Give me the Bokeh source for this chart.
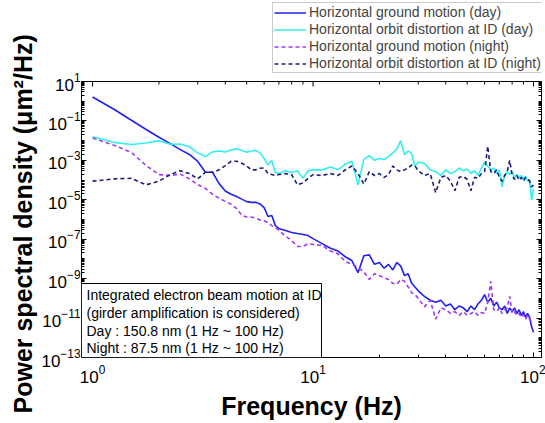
import math
from bokeh.plotting import figure
from bokeh.models import (LogAxis, FixedTicker, Legend, LegendItem, Label, BoxAnnotation,
                          CustomJSTickFormatter, Range1d, ColumnDataSource, Title)
from bokeh.embed import file_html
from bokeh.resources import INLINE

# ---------------- data ----------------
freq = [1.0, 1.25, 1.5, 1.75, 2.0, 2.25, 2.5, 2.75, 3.0, 3.25, 3.5, 3.75, 4.0,
        4.25, 4.5, 4.75, 5.0, 5.25, 5.5, 5.75, 6.0, 6.25, 6.5, 6.75, 7.0,
        7.5, 8.0, 8.5, 9.0, 9.5, 10.0,
        11, 12, 13, 14, 15, 16, 17, 18, 19, 20, 21, 22, 23, 24, 25, 26, 27, 28, 29, 30,
        32, 34, 36, 38, 40, 42, 44, 46, 48, 50, 52, 54, 56, 58, 60, 62, 64, 66, 68, 70,
        72, 74, 76, 78, 80, 82, 84, 86, 88, 90, 92, 94, 96, 98, 100]

day_ground = [1.63, 0.39, 0.108, 3.66e-2, 1.48e-2, 7.1e-3, 3.5e-3, 2.0e-3, 8.8e-4, 2.5e-4,
              2.5e-4, 6.6e-5, 2.8e-5, 1.9e-5, 1.48e-5, 1.08e-5, 8.1e-6, 7.4e-6, 7.4e-6, 6.2e-6,
              4.0e-6, 1.42e-6, 1.58e-6, 4.9e-7, 3.5e-7, 2.8e-7, 2.2e-7, 1.95e-7, 1.75e-7, 1.53e-7,
              1.07e-7,
              6.0e-8, 3.5e-8, 2.5e-8, 1.29e-8, 8.3e-9, 2.0e-9, 1.44e-8, 1.6e-8, 5.3e-9, 6.6e-9,
              3.4e-9, 5.3e-9, 2.75e-9, 6.6e-9, 4.3e-9, 1.42e-9, 1.77e-9, 5.8e-10, 3.8e-10, 2.4e-10,
              1.25e-10, 8e-11, 6.4e-11, 8e-11, 4.1e-11, 5.2e-11, 2.66e-11, 4.1e-11, 3.3e-11, 2.13e-11,
              4.1e-11, 2.66e-11, 5.2e-11, 8e-11, 1.56e-10, 6.4e-11, 1e-10, 4.1e-11, 6.4e-11, 3.3e-11,
              2.66e-11, 4.1e-11, 1.71e-11, 3.3e-11, 2.13e-11, 3.3e-11, 1.71e-11, 2.66e-11, 1.37e-11,
              2.13e-11, 1.1e-11, 1.71e-11, 1.1e-11, 3.6e-12, 1.9e-12]

day_orbit = [1.58e-2, 8.2e-3, 6.4e-3, 7.6e-3, 1.0e-2, 6.5e-3, 6.8e-3, 4.9e-3, 2.4e-3, 1.56e-3,
             2.7e-3, 3.0e-3, 2.65e-3, 3.4e-3, 3.85e-3, 3.2e-3, 2.6e-3, 3.0e-3, 3.2e-3, 2.4e-3,
             1.25e-3, 5.8e-4, 9.8e-4, 2.4e-4, 2.13e-4, 3.0e-4, 2.4e-4, 3.0e-4, 1.23e-4, 3.0e-4,
             3.3e-4,
             3.3e-4, 4.6e-4, 3.3e-4, 6.4e-4, 9.0e-4, 5.7e-5, 1.12e-3, 1.74e-3, 1.0e-3, 1.25e-3,
             1.12e-3, 1.56e-3, 2.4e-3, 3.8e-3, 1.0e-2, 1.94e-3, 3.0e-3, 2.2e-3, 5.2e-4, 8.0e-4,
             7.2e-4, 3.3e-4, 2.66e-4, 1.71e-4, 3.3e-4, 2.13e-4, 2.66e-4, 4.1e-4, 3.0e-4, 3.7e-4,
             2.13e-4, 3.0e-4, 1.71e-4, 4.1e-4, 8.0e-4, 5.2e-4, 3.3e-4, 4.1e-4, 2.13e-4, 3.3e-4,
             4.5e-5, 1.71e-4, 2.66e-4, 1.9e-4, 2.66e-4, 1.37e-4, 1.9e-4, 1.37e-4, 1.71e-4,
             1.1e-4, 1.53e-4, 8.8e-5, 1.1e-4, 9.7e-6, 3.6e-5]

night_ground = [1.36e-2, 5.9e-3, 2.5e-3, 5.5e-4, 1.9e-4, 1.71e-4, 2.0e-4, 1.15e-4, 5.9e-5, 3.8e-5,
                1.9e-5, 1.21e-5, 8.3e-6, 6.0e-6, 3.6e-6, 1.66e-6, 1.33e-6, 1.33e-6, 1.19e-6, 9.5e-7,
                8.6e-7, 6.9e-7, 4.9e-7, 3.9e-7, 2.8e-7, 1.46e-7, 8.4e-8, 4.3e-8, 4.3e-8, 6.0e-8,
                5.4e-8,
                4.8e-8, 2.5e-8, 1.8e-8, 7.4e-9, 5.3e-9, 3.8e-9, 2.2e-9, 9.1e-10, 1.77e-9, 1.42e-9,
                1.13e-9, 9.1e-10, 5.8e-10, 5.2e-10, 9.1e-10, 7.3e-10, 3.8e-10, 1.94e-10, 1.56e-10, 1e-10,
                3.7e-11, 8e-11, 8.8e-12, 3.3e-11, 2.66e-11, 1.71e-11, 2.13e-11, 1.37e-11, 2.13e-11,
                1.37e-11,
                1.71e-11, 2.13e-11, 1.37e-11, 1.91e-11, 1.71e-11, 6.4e-11, 7.3e-10, 2.66e-11, 2.13e-11,
                3.3e-11,
                1.71e-11, 2.66e-11, 3.3e-11, 1.25e-10, 1.71e-11, 2.13e-11, 1.37e-11, 1.71e-11, 1.1e-11,
                1.53e-11, 8.8e-12, 1.37e-11, 8.8e-12, 7.1e-12, 5.7e-12]

night_orbit = [8.8e-5, 1.15e-4, 1.23e-4, 5.7e-5, 8.8e-5, 1.9e-4, 3.0e-4, 2.13e-4, 1.15e-4, 2.5e-4,
               2.5e-4, 3.3e-4, 5.4e-4, 9.0e-4, 9.0e-4, 7.2e-4, 5.2e-4, 3.3e-4, 3.3e-4, 4.0e-4,
               4.1e-4, 2.13e-4, 1.9e-4, 1.71e-4, 1.9e-4, 2.13e-4, 1.9e-4, 5.7e-5, 7.1e-5, 1.23e-4,
               1.9e-4,
               1.71e-4, 2.13e-4, 1.71e-4, 3.3e-4, 5.2e-4, 2.13e-4, 6.3e-5, 2.66e-4, 1.71e-4, 2.13e-4,
               1.37e-4, 1.9e-4, 5.2e-4, 3.3e-4, 2.66e-4, 3.3e-4, 4.1e-4, 5.8e-4, 5.2e-4, 3.0e-4,
               1.71e-4, 2.13e-4, 2.3e-5, 1.37e-4, 1.71e-4, 8.8e-5, 2.9e-5, 1.37e-4, 1.53e-4, 1.1e-4,
               2.9e-5, 1.37e-4, 1.23e-4, 2.13e-4, 2.66e-4, 5.2e-3, 2.66e-4, 2.13e-4, 3.3e-4, 1.37e-4,
               8.8e-5, 1.71e-4, 2.66e-4, 1.0e-3, 1.71e-4, 1.1e-4, 1.71e-4, 9.9e-5, 1.37e-4, 8.8e-5,
               1.37e-4, 1.1e-4, 8.8e-5, 4.5e-5, 5.7e-5]

series_labels = ["Horizontal ground motion (day)",
                 "Horizontal orbit distortion at ID (day)",
                 "Horizontal ground motion (night)",
                 "Horizontal orbit distortion at ID (night)"]

x_major_ticks = [1, 10, 100]
x_minor_ticks = [2, 3, 4, 5, 6, 7, 8, 9, 20, 30, 40, 50, 60, 70, 80, 90]
y_major_ticks = [1e1, 1e-1, 1e-3, 1e-5, 1e-7, 1e-9, 1e-11, 1e-13]
y_minor_ticks = [m * 10.0 ** e for e in range(-13, 1) for m in range(1, 10)
                 if m * 10.0 ** e not in y_major_ticks]

note_lines = ["Integrated electron beam motion at ID",
              "(girder amplification is considered)",
              "Day : 150.8 nm (1 Hz ~ 100 Hz)",
              "Night : 87.5 nm (1 Hz ~ 100 Hz)"]

# axis limits of the plotting box (the frame extends above the box to host the legend)
X_LO, X_HI = 0.891, 108.7
Y_BOX_LO, Y_BOX_HI = 1e-13, 1e1
Y_FRAME_HI = 10 ** 5.109

FONT = "Liberation Sans"

p = figure(width=545, height=423, x_axis_type="log", y_axis_type="log",
           x_range=Range1d(X_LO, X_HI), y_range=Range1d(Y_BOX_LO, Y_FRAME_HI),
           output_backend="svg", toolbar_location=None,
           min_border_left=81, min_border_right=4, min_border_top=0, min_border_bottom=66)
p.grid.visible = False
p.outline_line_color = None
p.background_fill_color = "white"
p.border_fill_color = "white"

src = ColumnDataSource(dict(f=freq, dg=day_ground, do=day_orbit, ng=night_ground, no=night_orbit))
r1 = p.line("f", "dg", source=src, line_color="#2222ee", line_width=1.6)
r2 = p.line("f", "do", source=src, line_color="#33eeee", line_width=1.6)
r3 = p.line("f", "ng", source=src, line_color="#9a3cf5", line_width=1.6, line_dash="4 3")
r4 = p.line("f", "no", source=src, line_color="#1c1c78", line_width=1.6, line_dash="4 3")


def style_axis(ax, show_labels):
    ax.major_tick_in = 5
    ax.major_tick_out = 0
    ax.minor_tick_in = 3
    ax.minor_tick_out = 0
    ax.axis_line_color = "black"
    ax.major_tick_line_color = "black"
    ax.minor_tick_line_color = "black"
    if show_labels:
        ax.major_label_text_font = FONT
        ax.major_label_text_font_size = "17px"
        ax.major_label_text_color = "black"
    else:
        ax.formatter = CustomJSTickFormatter(code="return '';")
        ax.major_label_standoff = 0


p.xaxis.ticker = FixedTicker(ticks=x_major_ticks, minor_ticks=x_minor_ticks)
p.yaxis.ticker = FixedTicker(ticks=y_major_ticks, minor_ticks=y_minor_ticks)
style_axis(p.xaxis[0], True)
style_axis(p.yaxis[0], True)
p.yaxis.bounds = (Y_BOX_LO, Y_BOX_HI)
p.xaxis.major_label_standoff = 7
p.yaxis.major_label_standoff = 1

p.xaxis.axis_label = "Frequency (Hz)"
p.xaxis.axis_label_text_font = FONT
p.xaxis.axis_label_text_font_style = "bold"
p.xaxis.axis_label_text_font_size = "25px"
p.xaxis.axis_label_text_color = "black"
p.xaxis.axis_label_standoff = 6

# y-axis title, placed along the plotting box (starts below the box as in the reference)
p.add_layout(Title(text="Power spectral density (\u03bcm\u00b2/Hz)", align="left",
                   offset=-56, standoff=4, text_font=FONT, text_font_style="bold",
                   text_font_size="25px", text_color="black"), "left")

right_ax = LogAxis(ticker=FixedTicker(ticks=y_major_ticks, minor_ticks=y_minor_ticks),
                   bounds=(Y_BOX_LO, Y_BOX_HI))
style_axis(right_ax, False)
p.add_layout(right_ax, "right")

# plotting box and its top tick marks
p.add_layout(BoxAnnotation(left=X_LO, right=X_HI, bottom=Y_BOX_LO, top=Y_BOX_HI,
                           fill_color=None, fill_alpha=0,
                           line_color="black", line_width=1, line_alpha=1))
p.ray(x=x_major_ticks, y=[Y_BOX_HI] * len(x_major_ticks), length=5, length_units="screen",
      angle=-math.pi / 2, line_color="black", line_width=1)
p.ray(x=x_minor_ticks, y=[Y_BOX_HI] * len(x_minor_ticks), length=3, length_units="screen",
      angle=-math.pi / 2, line_color="black", line_width=1)

# legend (top right, above the plotting box)
legend = Legend(items=[LegendItem(label=series_labels[0], renderers=[r1]),
                       LegendItem(label=series_labels[1], renderers=[r2]),
                       LegendItem(label=series_labels[2], renderers=[r3]),
                       LegendItem(label=series_labels[3], renderers=[r4])],
                location=(191, 284), orientation="vertical",
                label_text_font=FONT, label_text_font_size="14px",
                glyph_width=32, glyph_height=15, label_height=15, spacing=1,
                padding=1, margin=0, label_standoff=3,
                border_line_color="#999999", border_line_width=1,
                background_fill_color="white", background_fill_alpha=1)
p.add_layout(legend, "center")

# annotation box in the lower-left corner of the plotting box
p.add_layout(BoxAnnotation(left=0, right=240, bottom=0, top=74,
                           left_units="screen", right_units="screen",
                           bottom_units="screen", top_units="screen",
                           fill_color="white", fill_alpha=1,
                           line_color="black", line_width=1, line_alpha=1))
note_y = [63, 45, 27, 10]
for txt, yy in zip(note_lines, note_y):
    p.add_layout(Label(x=5, y=yy, x_units="screen", y_units="screen",
                       text=txt, text_font=FONT, text_font_size="14px",
                       text_baseline="middle", text_align="left", text_color="black"))

open("out.html", "w").write(file_html(p, INLINE))
